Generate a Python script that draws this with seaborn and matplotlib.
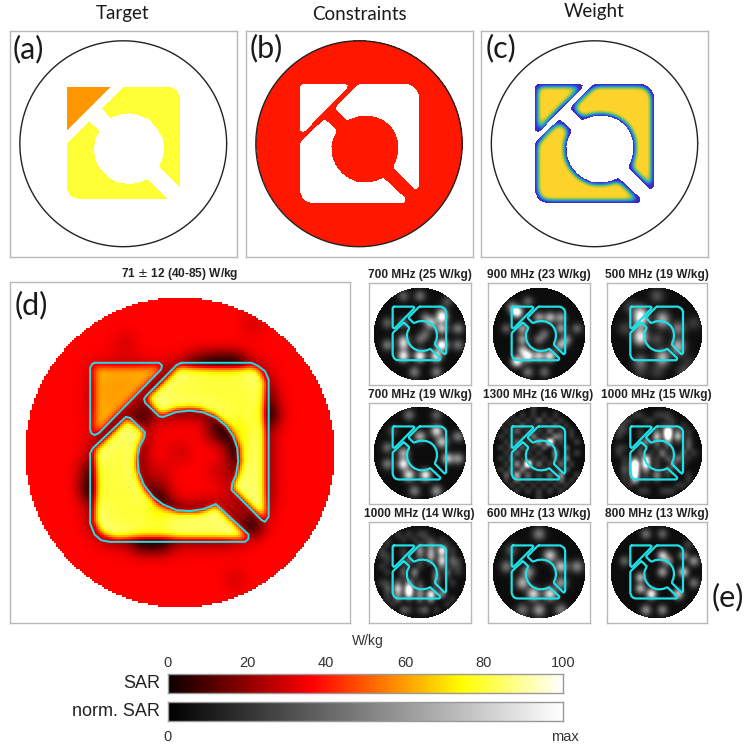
import numpy as np
import matplotlib
matplotlib.use("Agg")
import matplotlib.pyplot as plt
from matplotlib.path import Path
from matplotlib.colors import LinearSegmentedColormap
import seaborn as sns

sns.set_theme(style="white")
plt.rcParams['font.family'] = ['Liberation Sans', 'DejaVu Sans']

W, H = 753, 751

# region outlines, picture units, circle at (540, 563) radius 463
tri_x = [285, 478, 487, 484, 298, 285, 275, 272, 272, 277]
tri_y = [295, 295, 303, 315, 505, 511, 505, 495, 310, 300]
upper_x = [545, 755, 775, 795, 806, 806, 795, 785, 695, 697, 708, 715, 712, 700, 680, 650, 610, 570, 530, 490, 478, 437, 433, 440, 530]
upper_y = [295, 295, 305, 320, 345, 755, 770, 765, 675, 655, 630, 590, 550, 515, 485, 460, 443, 438, 442, 457, 455, 415, 403, 393, 302]
lower_x = [380, 392, 436, 433, 420, 414, 417, 433, 460, 490, 530, 570, 610, 648, 746, 745, 735, 330, 305, 285, 272, 272, 280, 375]
lower_y = [457, 460, 503, 520, 545, 575, 620, 660, 695, 718, 735, 738, 732, 717, 808, 822, 830, 830, 825, 808, 775, 565, 550, 460]

# target regions, circle at (370, 432) radius 312
t_tri_x = [200, 332, 200]
t_tri_y = [261, 261, 392]
t_upper_x = [370, 510, 530, 540, 540, 478, 490, 494, 488, 470, 445, 410, 387, 360, 330, 305]
t_upper_y = [261, 261, 270, 290, 563, 502, 470, 448, 415, 385, 358, 344, 341, 344, 355, 325]
t_lower_x = [265, 297, 285, 280, 285, 300, 325, 355, 387, 415, 443, 502, 232, 210, 200, 200]
t_lower_y = [365, 393, 420, 448, 480, 510, 535, 550, 555, 551, 540, 600, 600, 590, 570, 430]

# SAR levels in W/kg
level_background = 40
level_d_background = 37
level_orange = 59
level_yellow = 80

# slow variation of panel (d), 5 is neutral
d_variation = [
    "55555555555555555",
    "55555555555545555",
    "55555455555555555",
    "55555555532255555",
    "55555555555555555",
    "55555555555554555",
    "55555525555552555",
    "55555555552355555",
    "55555555455355555",
    "55535554554555555",
    "55525553555555555",
    "55555553555555555",
    "55555555555515555",
    "55555522555555555",
    "55555555555555555",
    "55455555555455555",
    "55555555555555555",
]

freq_titles = [
    "700 MHz (25 W/kg)", "900 MHz (23 W/kg)", "500 MHz (19 W/kg)",
    "700 MHz (19 W/kg)", "1300 MHz (16 W/kg)", "1000 MHz (15 W/kg)",
    "1000 MHz (14 W/kg)", "600 MHz (13 W/kg)", "800 MHz (13 W/kg)",
]

z = "00000000000000000"
p1 = [z, "00000300300000000", "00000000000003000", z,
      "00000000000030000", "00000000040090000", "00300300006000000", "00000000000070040",
      "00000000030000000", "00000500300000000", "00400600000090030", z,
      "00000900800900000", z, z, "00000004000400000", z]
p2 = [z, z, "00000030000000000", "00040000000000000",
      "00009000000000000", "00000000506050000", z, "00300600000050030",
      "00000000030000000", "00000600300005000", "00000000000050000", "00000700000000000",
      "00000080607000000", "00009000000000000", z, "00000030030000000", z]
p3 = [z, "00000000300000000", z, "00030000000000000",
      "00000700000000000", "00000900070000000", "00000500040000020", "00300000000060000",
      "00000700000000000", "00000900300000000", "00000000000060000", "00000000000030000",
      "00000000070000000", "00000600040000200", z, "00000200200003000", z]
p4 = [z, "00000030000300000", z, z,
      "00020000000800000", "00000000600000040", "00000000000060000", "00400000000000000",
      "00000600000000000", "00000000000008050", "00400900000000000", z,
      "00000070090000000", z, z, "00000004000500000", z]
p5 = ["00000001000000000", "00010101010100000", "00101010201010000", "01010201010201000",
      "00102010102010100", "01010103010320100", "00102010307010010", "01020201020102000",
      "00102010100301010", "01020101010203000", "00103080201020100", "01020301010102000",
      "00204020102030010", "00102010101020100", "00010101010101000", "00001010101010000",
      "00000000100000000"]
p6 = [z, "00001100111000000", "00110011001100000", "01100000010101000",
      "01100100209020100", "01000100508050100", "00000030203010200", "01100100101000200",
      "01000201030102010", "00102060102030100", "00109070100301000", "00208030102010000",
      "00107010301000100", "00104010100000100", "00010000000011000", "00000110011100000",
      z]
p7 = [z, "00001010110000000", "00100101011010000", "00100000102101000",
      "01000100303060100", "01100100204030100", "00100020102050210", "01000100100020110",
      "00100203000202010", "00000101000301000", "01102030100200100", "00205070200100000",
      "00103060306030000", "00102010203000100", "00010000000001000", "00000210120100000",
      z]
p8 = [z, "00000000400000000", z, z,
      "00030000000000000", "00000000008000000", z, "00500000000080050",
      "00000050000000000", z, "00000700000050000", z,
      "00000009008000000", z, z, "00000400500040000", z]
p9 = [z, "00000030030000000", z, "00000000000000200",
      z, "00000000080005000", "00300000004000040", z,
      "00000000050007000", "00000700000000000", "00000000000000030", "00000700000000000",
      "00000009000060000", z, z, "00000040040000000", z]
freq_grids = [p1, p2, p3, p4, p5, p6, p7, p8, p9]
freq_sigma = [3.7, 3.5, 4.8, 3.7, 2.0, 2.5, 2.6, 4.2, 3.3]
freq_gain = [2.9, 2.8, 3.3, 2.9, 1.7, 1.9, 2.1, 3.2, 2.5]
glow = 0.05

sar_ticks = [0, 20, 40, 60, 80, 100]

big_frames = [(9.5, 30.5, 237, 257), (245.5, 30.5, 472.5, 257), (481, 30.5, 708, 257)]
small_x = [(368.5, 470.5), (487.5, 589.5), (606.5, 707)]
small_y = [(282.5, 384.5), (402.5, 503.5), (521.5, 622.5)]

HALF = 1.1


def add_ax(x0, y0, x1, y1):
    return fig.add_axes([x0 / W, 1 - y1 / H, (x1 - x0) / W, (y1 - y0) / H])


def smooth(a, s):
    r = int(4 * s) + 1
    k = np.exp(-0.5 * (np.arange(-r, r + 1) / s) ** 2)
    k = k / k.sum()
    b = np.pad(a, r, mode="edge")
    b = np.apply_along_axis(lambda m: np.convolve(m, k, mode="same"), 0, b)
    b = np.apply_along_axis(lambda m: np.convolve(m, k, mode="same"), 1, b)
    return b[r:-r, r:-r]


def unit(xs, ys, cx, cy, rad):
    return (np.array(xs, float) - cx) / rad, (cy - np.array(ys, float)) / rad


def cell_grid(n):
    c = (np.arange(n) + 0.5) / n * 2 * HALF - HALF
    return np.meshgrid(c, -c)


def inside(xs, ys, gx, gy):
    pts = np.column_stack([gx.ravel(), gy.ravel()])
    return Path(np.column_stack([xs, ys])).contains_points(pts).reshape(gx.shape)


def frame(ax, color="#b8b8b8"):
    for s in ax.spines.values():
        s.set_visible(True)
        s.set_color(color)
        s.set_linewidth(1.0)


def heat(ax, data, mask=None, cmap="hot", vmin=0, vmax=100):
    sns.heatmap(data, ax=ax, mask=mask, cmap=cmap, vmin=vmin, vmax=vmax, cbar=False,
                xticklabels=False, yticklabels=False, square=False)
    ax.set_aspect("auto")
    ax.set_facecolor("white")
    frame(ax)


def to_cells(u, v, n):
    return (u + HALF) / (2 * HALF) * n, (HALF - v) / (2 * HALF) * n


def circle_line(ax, n):
    th = np.linspace(0, 2 * np.pi, 361)
    i, j = to_cells(np.cos(th), np.sin(th), n)
    ax.plot(i, j, color="#222222", lw=1.0)


def cyan_lines(ax, n, lw):
    for px, py in outlines:
        i, j = to_cells(np.r_[px, px[0]], np.r_[py, py[0]], n)
        ax.plot(i, j, color="#1ee0e6", lw=lw, solid_joinstyle="round")


outlines = [unit(tri_x, tri_y, 540, 563, 463), unit(upper_x, upper_y, 540, 563, 463),
            unit(lower_x, lower_y, 540, 563, 463)]
targets = [unit(t_tri_x, t_tri_y, 370, 432, 312), unit(t_upper_x, t_upper_y, 370, 432, 312),
           unit(t_lower_x, t_lower_y, 370, 432, 312)]

fig = plt.figure(figsize=(W / 100, H / 100), dpi=100, facecolor="white")

n_big = 227
gx, gy = cell_grid(n_big)
disc = gx ** 2 + gy ** 2 <= 1

# (a) target
t_orange = inside(*targets[0], gx, gy)
t_yellow = inside(*targets[1], gx, gy) | inside(*targets[2], gx, gy)
a = np.full(gx.shape, float(level_yellow))
a[t_orange] = level_orange
ax = add_ax(*big_frames[0])
heat(ax, a, mask=~(t_orange | t_yellow))
circle_line(ax, n_big)

# (b) constraints
region = inside(*outlines[0], gx, gy) | inside(*outlines[1], gx, gy) | inside(*outlines[2], gx, gy)
ax = add_ax(*big_frames[1])
heat(ax, np.full(gx.shape, float(level_background)), mask=region | ~disc)
circle_line(ax, n_big)

# (c) weight
weight_cmap = LinearSegmentedColormap.from_list(
    "weight", [(0, "#3a2bc4"), (0.2, "#3a3fd0"), (0.4, "#2b86d8"), (0.55, "#2cb5a8"),
               (0.72, "#a6c43c"), (0.88, "#fbd32a"), (1, "#fbd32a")])
# edge of the mask sits at 0.5, the core at 1
ax = add_ax(*big_frames[2])
heat(ax, smooth(region.astype(float), 4.2), mask=~region, cmap=weight_cmap, vmin=0.5, vmax=1.0)
circle_line(ax, n_big)

# (d) combined SAR
n_d = 170
gx, gy = cell_grid(n_d)
disc = gx ** 2 + gy ** 2 <= 1
d = np.full(gx.shape, float(level_d_background))
d[inside(*targets[1], gx, gy) | inside(*targets[2], gx, gy)] = level_yellow
d[inside(*targets[0], gx, gy)] = level_orange
fine = smooth(d, 1.7)
diff = fine - smooth(d, 5.5)
d = fine + np.where(diff > 0, 0.35, 1.25) * diff

var_cells = np.array([[int(c) for c in row] for row in d_variation], float)
col = np.clip(((gx + 1) / 2 * 17).astype(int), 0, 16)
row = np.clip(((1 - gy) / 2 * 17).astype(int), 0, 16)
d = d + smooth((var_cells[row, col] - 5) * 8.0, 3.6)
ax = add_ax(9.5, 282, 350, 623)
heat(ax, d, mask=~disc)
cyan_lines(ax, n_d, 1.4)
fig.text(180 / W, 1 - 274.5 / H, "71 $\\pm$ 12 (40-85) W/kg", ha="center", va="center",
         fontsize=8.6, fontweight="bold", color="#222222")

# (e) single frequency maps
n_s = 102
gx, gy = cell_grid(n_s)
disc = gx ** 2 + gy ** 2 <= 1
col = np.clip(((gx + 1) / 2 * 17).astype(int), 0, 16)
row = np.clip(((1 - gy) / 2 * 17).astype(int), 0, 16)
for idx, (grid, title, sig, gain) in enumerate(zip(freq_grids, freq_titles, freq_sigma, freq_gain)):
    r_i, c_i = idx // 3, idx % 3
    x0, x1 = small_x[c_i]
    y0, y1 = small_y[r_i]
    cells = np.array([[int(c) for c in r] for r in grid], float) / 9
    field = smooth(cells[row, col], sig) * gain + glow
    ax = add_ax(x0, y0, x1, y1)
    heat(ax, field, mask=~disc, cmap="gray", vmin=0, vmax=1)
    cyan_lines(ax, n_s, 1.6)
    fig.text((x0 + x1) / 2 / W, 1 - (y0 - 7.5) / H, title, ha="center", va="center",
             fontsize=8.6, fontweight="bold", color="#222222")

# colour bars
bar_x0, bar_x1 = 168, 563
ramp = np.linspace(0, 100, 256).reshape(1, -1)

ax = add_ax(bar_x0, 674, bar_x1, 693)
heat(ax, ramp, cmap="hot", vmin=0, vmax=100)
frame(ax, "#999999")
ax.set_xticks(np.array(sar_ticks) / 100 * 256)
ax.tick_params(axis="x", direction="in", length=2.5, width=0.6, color="#444444", bottom=False, top=True,
               labelbottom=False, labeltop=True, labelsize=10.5, labelcolor="#333333", pad=3)
ax.set_xticklabels([str(t) for t in sar_ticks], rotation=0)

ax = add_ax(bar_x0, 701.5, bar_x1, 721)
heat(ax, ramp, cmap="gray", vmin=0, vmax=100)
frame(ax, "#999999")

fig.text(368 / W, 1 - 641 / H, "W/kg", ha="center", va="center", fontsize=10, color="#333333")
fig.text(160 / W, 1 - 684 / H, "SAR", ha="right", va="center", fontsize=13, color="#222222")
fig.text(160 / W, 1 - 712 / H, "norm. SAR", ha="right", va="center", fontsize=13, color="#222222")
fig.text(168 / W, 1 - 737 / H, "0", ha="center", va="center", fontsize=10.5, color="#333333")
fig.text(565 / W, 1 - 737 / H, "max", ha="center", va="center", fontsize=10.5, color="#333333")

# headings and panel letters
for txt, x, y in [("Target", 123, 14), ("Constraints", 359, 14), ("Weight", 594, 12)]:
    fig.text(x / W, 1 - y / H, txt, ha="center", va="center", family="Lato", fontsize=13.5, color="#1a1a1a")
for txt, x, y in [("(a)", 28, 49), ("(b)", 266, 48), ("(c)", 501, 48), ("(d)", 31, 305), ("(e)", 728, 597)]:
    fig.text(x / W, 1 - y / H, txt, ha="center", va="center", family="Lato", fontsize=22, color="#1a1a1a")

fig.savefig("out.png", dpi=100)
